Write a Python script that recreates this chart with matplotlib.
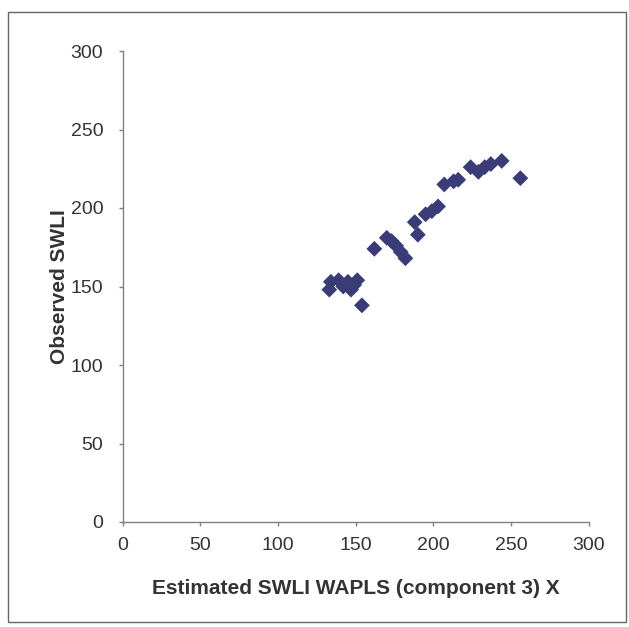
import matplotlib
matplotlib.use('Agg')
import matplotlib.pyplot as plt
from matplotlib.patches import Rectangle

# estimated vs observed SWLI
est_x = [133, 134, 139, 142, 145, 147, 149, 151, 154,
         162, 170, 173, 176, 179, 182,
         188, 190, 195, 199, 203, 207, 213, 216,
         224, 229, 233, 237, 244, 256]
obs_y = [148, 153, 154, 150, 153, 148, 151, 154, 138,
         174, 181, 179, 176, 172, 168,
         191, 183, 196, 198, 201, 215, 217, 218,
         226, 223, 226, 228, 230, 219]

plt.rcParams['font.family'] = ['Liberation Sans', 'DejaVu Sans']

fig = plt.figure(figsize=(6.29, 6.27), dpi=100)
ax = fig.add_axes([122.7 / 629, 1 - 522 / 627, 466 / 629, 471 / 627])

fig.patches.append(Rectangle((8 / 629, 1 - 622 / 627), 618 / 629, 610 / 627,
                             transform=fig.transFigure, fill=False,
                             edgecolor='#666666', linewidth=1.0))

ax.scatter(est_x, obs_y, marker='D', s=65, color='#3a3c78', edgecolors='none', zorder=3)

ax.set_xlim(0, 300)
ax.set_ylim(0, 300)
ax.set_xticks(range(0, 301, 50))
ax.set_yticks(range(0, 301, 50))
ax.spines['top'].set_visible(False)
ax.spines['right'].set_visible(False)
for s in ['left', 'bottom']:
    ax.spines[s].set_color('#808080')
    ax.spines[s].set_linewidth(1.0)
ax.tick_params(direction='out', length=3, width=1, color='#808080',
               labelsize=14, labelcolor='#333333')
ax.tick_params(axis='x', pad=8)
ax.tick_params(axis='y', pad=11)

ax.set_xlabel('Estimated SWLI WAPLS (component 3) X', fontsize=15,
              fontweight='bold', color='#333333', labelpad=18)
ax.set_ylabel('Observed SWLI', fontsize=15, fontweight='bold',
              color='#333333', labelpad=1)

fig.savefig('out.png', dpi=100)
